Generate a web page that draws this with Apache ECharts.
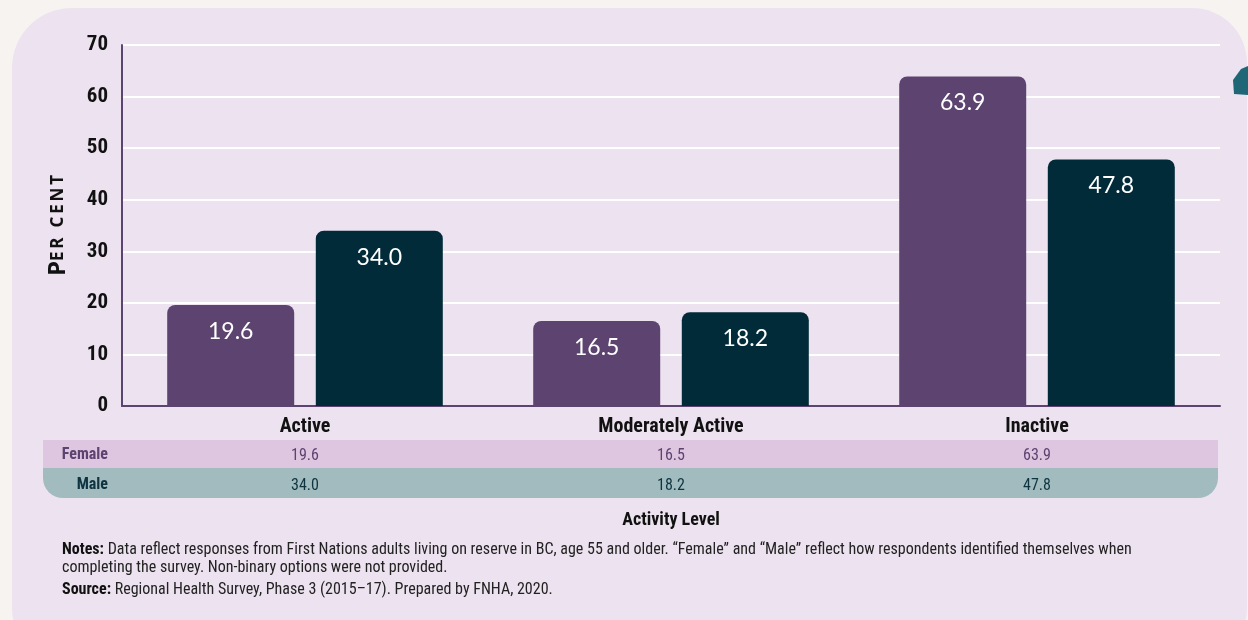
<!DOCTYPE html>
<html>
<head>
    <meta charset="utf-8">
    <title>Activity Level</title>
    <script src="https://cdn.jsdelivr.net/npm/echarts@6/dist/echarts.min.js"></script>
    <style>
        body { margin: 0; background: #f6f3f0; overflow: hidden; }
        #card { position: absolute; left: 12px; top: 8px; width: 1235px; height: 660px; background: #ede2ef; border-radius: 60px 55px 60px 60px; }
        #chart { position: absolute; left: 0; top: 0; width: 1248px; height: 620px; }
    </style>
</head>
<body>
<div id="card"></div>
<div id="chart"></div>
<script type="text/javascript">
    var categories = ['Active', 'Moderately Active', 'Inactive'];
    var femaleValues = [19.6, 16.5, 63.9];
    var maleValues = [34.0, 18.2, 47.8];
    var rowNames = ['Female', 'Male'];

    var narrow = '"Liberation Sans Narrow", "Roboto Condensed", "DejaVu Sans Condensed", sans-serif';
    var purple = '#5c4370';
    var navy = '#022b3a';

    var myChart = echarts.init(document.getElementById('chart'));

    option = {
        animation: false,
        grid: { left: 122, right: 28, top: 45, bottom: 214, containLabel: false, outerBoundsMode: 'none' },
        xAxis: [
            {
                type: 'category',
                data: categories,
                axisLine: { lineStyle: { color: purple, width: 2 } },
                axisTick: { show: false },
                axisLabel: { fontFamily: narrow, fontWeight: 'bold', fontSize: 20, color: '#111', margin: 11 }
            },
            {
                type: 'category',
                data: categories,
                position: 'bottom',
                axisLine: { show: false },
                axisTick: { show: false },
                axisLabel: {
                    fontFamily: narrow, fontSize: 16, color: purple, margin: 42,
                    formatter: function (v, i) { return femaleValues[i].toFixed(1); }
                }
            },
            {
                type: 'category',
                data: categories,
                position: 'bottom',
                axisLine: { show: false },
                axisTick: { show: false },
                axisLabel: {
                    fontFamily: narrow, fontSize: 16, color: '#0d3440', margin: 72,
                    formatter: function (v, i) { return maleValues[i].toFixed(1); }
                }
            }
        ],
        yAxis: {
            type: 'value',
            min: 0,
            max: 70,
            interval: 10,
            name: '{a|P}{b|E\u2009R\u2009 \u2009C\u2009E\u2009N\u2009T}',
            nameLocation: 'middle',
            nameGap: 52,
            nameTextStyle: {
                rich: {
                    a: { fontFamily: 'Open Sans', fontSize: 24, fontWeight: 'bold', color: '#111' },
                    b: { fontFamily: 'Open Sans', fontSize: 17, fontWeight: 'bold', color: '#111' }
                }
            },
            axisLine: { show: true, lineStyle: { color: purple, width: 2 } },
            axisTick: { show: false },
            axisLabel: { fontFamily: narrow, fontWeight: 'bold', fontSize: 21, color: '#111', margin: 14 },
            splitLine: { lineStyle: { color: '#ffffff', width: 2 } }
        },
        series: [
            {
                name: 'Female',
                type: 'bar',
                data: femaleValues,
                barWidth: 127,
                barGap: '17%',
                itemStyle: { color: purple, borderRadius: [8, 8, 0, 0] },
                label: {
                    show: true, position: 'insideTop', distance: 15,
                    fontFamily: 'Lato', fontSize: 23, color: '#ffffff',
                    formatter: function (p) { return p.value.toFixed(1); }
                }
            },
            {
                name: 'Male',
                type: 'bar',
                data: maleValues,
                barWidth: 127,
                itemStyle: { color: navy, borderRadius: [8, 8, 0, 0] },
                label: {
                    show: true, position: 'insideTop', distance: 15,
                    fontFamily: 'Lato', fontSize: 23, color: '#ffffff',
                    formatter: function (p) { return p.value.toFixed(1); }
                }
            }
        ],
        graphic: [
            // decorative shape at the right edge
            { type: 'polygon', z: -5, shape: { points: [[1233, 80], [1241, 69], [1248, 66], [1248, 95], [1234, 94]] }, style: { fill: '#1f6677' } },
            // table rows
            { type: 'rect', z: -5, shape: { x: 43, y: 440, width: 1175, height: 28 }, style: { fill: '#dfc6e0' } },
            { type: 'rect', z: -5, shape: { x: 43, y: 468, width: 1175, height: 30, r: [0, 0, 20, 20] }, style: { fill: '#a1bbbf' } },
            { type: 'text', x: 108, y: 455, style: { text: rowNames[0], align: 'right', verticalAlign: 'middle', font: 'bold 16px ' + narrow, fill: purple } },
            { type: 'text', x: 108, y: 485, style: { text: rowNames[1], align: 'right', verticalAlign: 'middle', font: 'bold 16px ' + narrow, fill: '#0d3440' } },
            { type: 'text', x: 671, y: 520, style: { text: 'Activity Level', align: 'center', verticalAlign: 'middle', font: 'bold 18px ' + narrow, fill: '#111' } },
            // notes
            {
                type: 'text', x: 62, y: 541,
                style: {
                    text: '{b|Notes:} Data reflect responses from First Nations adults living on reserve in BC, age 55 and older. \u201cFemale\u201d and \u201cMale\u201d reflect how respondents identified themselves when\ncompleting the survey. Non-binary options were not provided.',
                    verticalAlign: 'top', font: '16px ' + narrow, fill: '#222', lineHeight: 18,
                    rich: { b: { fontFamily: narrow, fontWeight: 'bold', fontSize: 16, fill: '#111', lineHeight: 18 } }
                }
            },
            {
                type: 'text', x: 62, y: 590,
                style: {
                    text: '{b|Source:} Regional Health Survey, Phase 3 (2015\u201317). Prepared by FNHA, 2020.',
                    verticalAlign: 'middle', font: '16px ' + narrow, fill: '#222',
                    rich: { b: { fontFamily: narrow, fontWeight: 'bold', fontSize: 16, fill: '#111' } }
                }
            }
        ]
    };

    myChart.setOption(option);
</script>
</body>
</html>
